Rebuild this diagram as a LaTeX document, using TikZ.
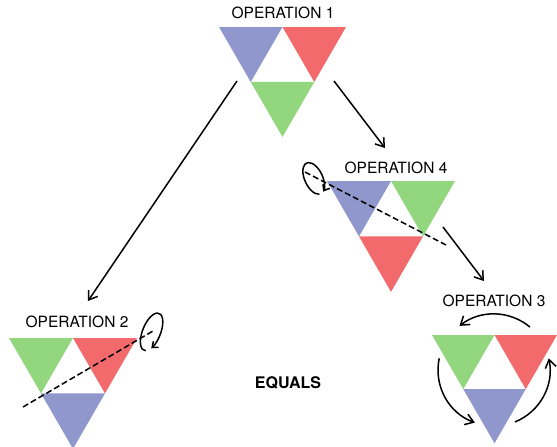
\documentclass[tikz,border=0pt]{standalone}
\usepackage{fontspec}
\setmainfont{TeX Gyre Heros}
\usetikzlibrary{arrows.meta}

\definecolor{triblue}{RGB}{143,151,204}
\definecolor{trired}{RGB}{242,106,108}
\definecolor{trigreen}{RGB}{146,214,126}

% three coloured triangles: x, y (top left), width, left, right, bottom
\newcommand{\trio}[6]{%
  \fill[#4] (#1,#2) -- ++(#3/2,0) -- ++(-#3/4,#3*0.433) -- cycle;
  \fill[#5] (#1+#3/2,#2) -- ++(#3/2,0) -- ++(-#3/4,#3*0.433) -- cycle;
  \fill[#6] (#1+#3/4,#2+#3*0.433) -- ++(#3/2,0) -- ++(-#3/4,#3*0.433) -- cycle;}

\begin{document}
\begin{tikzpicture}[x=1pt,y=-1pt,->,>={Straight Barb[length=8pt,width=11pt]},
                line width=1.5pt,
                op label/.style={font=\fontsize{15.5}{18}\selectfont},
                axis line/.style={-,dashed,dash pattern=on 6pt off 3pt},
                loop line/.style={-{Straight Barb[length=5pt,width=8pt]}}]
  \useasboundingbox (0,0) rectangle (557,447);

  \trio{219}{27}{127}{triblue}{trired}{trigreen}
  \trio{327}{181}{128}{triblue}{trigreen}{trired}
  \trio{9}{338}{128}{trigreen}{trired}{triblue}
  \trio{432}{335}{125}{trigreen}{trired}{triblue}

  \node[op label] (op1) at (283,13) {OPERATION 1};
  \node[op label] (op4) at (396,168) {OPERATION 4};
  \node[op label] (op2) at (77,322) {OPERATION 2};
  \node[op label] (op3) at (494,301) {OPERATION 3};
  \node[font=\bfseries\fontsize{16}{19}\selectfont] (eq) at (288,383) {EQUALS};

  \coordinate (s12) at (237,81);
  \coordinate (e12) at (88,301);
  \coordinate (s14) at (334,81);
  \coordinate (e14) at (385,148);
  \coordinate (s43) at (443,227);
  \coordinate (e43) at (484,281);

  \draw (s12) -- (e12);
  \draw (s14) -- (e14);
  \draw (s43) -- (e43);

  % axes of turning
  \coordinate (d4a) at (305,172);
  \coordinate (d4b) at (446,245);
  \coordinate (d2a) at (23,407);
  \coordinate (d2b) at (153,331);
  \draw[axis line] (d4a) -- (d4b);
  \draw[axis line] (d2a) -- (d2b);

  \begin{scope}[shift={(314,178)},rotate=25]
    \draw[loop line] (-2,17) arc[start angle=100,end angle=430,x radius=9,y radius=17];
  \end{scope}
  \begin{scope}[shift={(150,332)},rotate=-22]
    \draw[loop line] (3,19) arc[start angle=80,end angle=410,x radius=9,y radius=20];
  \end{scope}

  % rotation
  \coordinate (c3) at (494,370);
  \draw (c3) ++(-50:56) arc[start angle=-50,end angle=-128,radius=56];
  \draw (c3) ++(-168:56) arc[start angle=-168,end angle=-250,radius=56];
  \draw (c3) ++(-292:56) arc[start angle=-292,end angle=-372,radius=56];
\end{tikzpicture}
\end{document}
